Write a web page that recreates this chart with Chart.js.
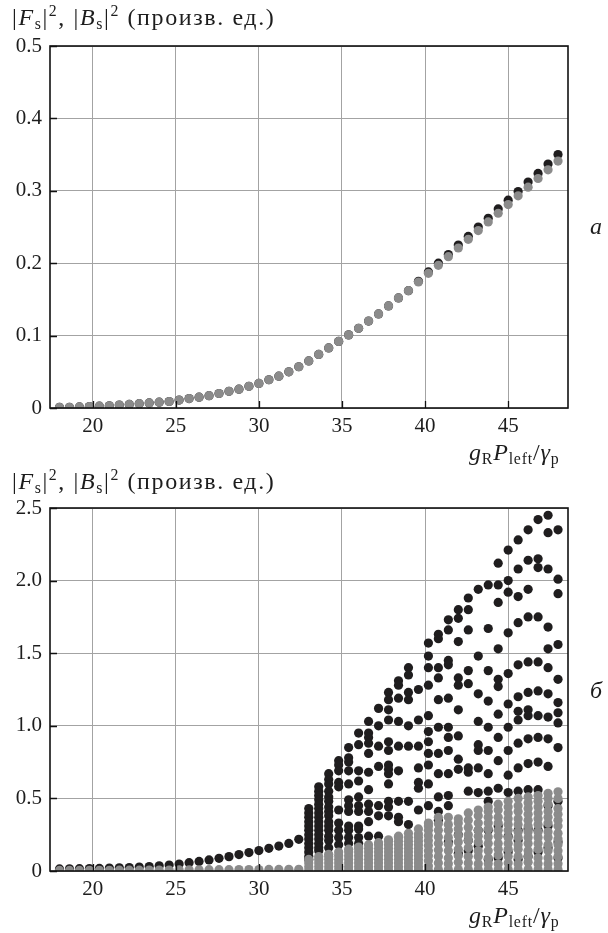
<!DOCTYPE html>
<html>
<head>
<meta charset="utf-8">
<script src="https://cdn.jsdelivr.net/npm/chart.js@4.4.0/dist/chart.umd.min.js"></script>
<style>
  html, body { margin: 0; padding: 0; background: #fff; }
  #wrap { position: relative; width: 608px; height: 933px; overflow: hidden; font-family: "Liberation Serif", "Times New Roman", serif; color: #1d1d1d; }
  .pane { position: absolute; left: 0; width: 608px; }
  .txt { position: absolute; font-size: 24px; line-height: 28px; white-space: nowrap; }
  .ytl { font-size: 24px; letter-spacing: 1.6px; }
  .xtl { font-size: 24px; letter-spacing: 0.8px; }
  .txt sub { font-size: 0.66em; vertical-align: -0.25em; line-height: 0; }
  .txt sup { font-size: 0.66em; vertical-align: 0.55em; line-height: 0; }
  .txt i { font-style: italic; }
</style>
</head>
<body>
<div id="wrap">
  <div class="pane" style="top:0;height:466px"><canvas id="topChart" width="608" height="466"></canvas></div>
  <div class="pane" style="top:462px;height:471px"><canvas id="botChart" width="608" height="471"></canvas></div>

  <div class="txt ytl" style="left:12px;top:3px">|<i>F</i><sub>s</sub>|<sup>2</sup>, |<i>B</i><sub>s</sub>|<sup>2</sup> (произв. ед.)</div>
  <div class="txt ytl" style="left:12px;top:467px">|<i>F</i><sub>s</sub>|<sup>2</sup>, |<i>B</i><sub>s</sub>|<sup>2</sup> (произв. ед.)</div>
  <div class="txt xtl" style="left:469px;top:438px"><i>g</i><sub>R</sub><i>P</i><sub>left</sub>/<i>γ</i><sub>p</sub></div>
  <div class="txt xtl" style="left:469px;top:901px"><i>g</i><sub>R</sub><i>P</i><sub>left</sub>/<i>γ</i><sub>p</sub></div>
  <div class="txt" style="left:590px;top:212px"><i>а</i></div>
  <div class="txt" style="left:590px;top:676px"><i>б</i></div>
</div>

<script>
  // ---- data ----
  const xTicks = [20, 25, 30, 35, 40, 45];
  const yTicksTop = [0, 0.1, 0.2, 0.3, 0.4, 0.5];
  const yLabelsTop = ["0", "0.1", "0.2", "0.3", "0.4", "0.5"];
  const yTicksBot = [0, 0.5, 1.0, 1.5, 2.0, 2.5];
  const yLabelsBot = ["0", "0.5", "1.0", "1.5", "2.0", "2.5"];

  // panel a: one point per pump value
  const xTop = [18.0, 18.6, 19.2, 19.8, 20.4, 21.0, 21.6, 22.2, 22.8, 23.4,
                24.0, 24.6, 25.2, 25.8, 26.4, 27.0, 27.6, 28.2, 28.8, 29.4,
                30.0, 30.6, 31.2, 31.8, 32.4, 33.0, 33.6, 34.2, 34.8, 35.4,
                36.0, 36.6, 37.2, 37.8, 38.4, 39.0, 39.6, 40.2, 40.8, 41.4,
                42.0, 42.6, 43.2, 43.8, 44.4, 45.0, 45.6, 46.2, 46.8, 47.4, 48.0];
  const topF = [0.001, 0.001, 0.0015, 0.002, 0.0025, 0.003, 0.004, 0.005, 0.006, 0.007,
                0.008, 0.009, 0.011, 0.013, 0.015, 0.017, 0.020, 0.023, 0.026, 0.030,
                0.034, 0.039, 0.044, 0.050, 0.057, 0.065, 0.074, 0.083, 0.092, 0.101,
                0.110, 0.120, 0.130, 0.141, 0.152, 0.162, 0.175, 0.188, 0.200, 0.212,
                0.225, 0.237, 0.250, 0.262, 0.275, 0.287, 0.299, 0.312, 0.324, 0.337, 0.350];
  const topB = [0.001, 0.001, 0.0015, 0.002, 0.0025, 0.003, 0.004, 0.005, 0.006, 0.007,
                0.008, 0.009, 0.011, 0.013, 0.015, 0.017, 0.020, 0.023, 0.026, 0.030,
                0.034, 0.039, 0.044, 0.050, 0.057, 0.065, 0.074, 0.083, 0.092, 0.101,
                0.110, 0.120, 0.130, 0.141, 0.152, 0.162, 0.174, 0.186, 0.197, 0.209,
                0.221, 0.233, 0.245, 0.257, 0.269, 0.281, 0.293, 0.305, 0.317, 0.329, 0.341];

  // panel б: single values below the threshold
  const xLow = [18.0, 18.6, 19.2, 19.8, 20.4, 21.0, 21.6, 22.2, 22.8, 23.4,
                24.0, 24.6, 25.2, 25.8, 26.4, 27.0, 27.6, 28.2, 28.8, 29.4,
                30.0, 30.6, 31.2, 31.8, 32.4];
  const lowF = [0.014, 0.015, 0.016, 0.017, 0.018, 0.020, 0.022, 0.024, 0.027, 0.031,
                0.036, 0.041, 0.048, 0.057, 0.066, 0.076, 0.087, 0.099, 0.113, 0.127,
                0.141, 0.156, 0.172, 0.190, 0.218];
  const lowB = [0.004, 0.004, 0.004, 0.005, 0.005, 0.005, 0.006, 0.006, 0.006, 0.007,
                0.007, 0.007, 0.008, 0.008, 0.008, 0.009, 0.009, 0.009, 0.010, 0.010,
                0.010, 0.011, 0.011, 0.012, 0.012];

  // panel б: many values per pump value above the threshold
  const xCol = [33.0, 33.6, 34.2, 34.8, 35.4, 36.0, 36.6, 37.2, 37.8, 38.4, 39.0, 39.6, 40.2,
                40.8, 41.4, 42.0, 42.6, 43.2, 43.8, 44.4, 45.0, 45.6, 46.2, 46.8, 47.4, 48.0];
  const colF = [
    [0.43, 0.40, 0.37, 0.34, 0.31, 0.28, 0.25, 0.22, 0.19, 0.16, 0.13, 0.10, 0.08],
    [0.58, 0.55, 0.52, 0.49, 0.46, 0.43, 0.40, 0.37, 0.34, 0.31, 0.28, 0.25, 0.22, 0.19, 0.16, 0.14],
    [0.67, 0.63, 0.60, 0.55, 0.51, 0.48, 0.44, 0.41, 0.38, 0.34, 0.31, 0.28, 0.24, 0.21, 0.16],
    [0.76, 0.73, 0.69, 0.61, 0.58, 0.42, 0.33, 0.28, 0.23, 0.18],
    [0.85, 0.78, 0.75, 0.69, 0.60, 0.49, 0.45, 0.41, 0.31, 0.28, 0.23, 0.19],
    [0.95, 0.87, 0.69, 0.62, 0.51, 0.45, 0.41, 0.31, 0.29, 0.23, 0.19],
    [1.03, 0.95, 0.92, 0.88, 0.81, 0.68, 0.56, 0.46, 0.41, 0.34, 0.24],
    [1.12, 1.00, 0.86, 0.72, 0.45, 0.38, 0.24],
    [1.23, 1.18, 1.11, 1.04, 0.89, 0.83, 0.73, 0.70, 0.67, 0.60, 0.48, 0.44, 0.38],
    [1.31, 1.28, 1.19, 1.03, 0.86, 0.69, 0.48, 0.37, 0.34],
    [1.40, 1.35, 1.23, 1.18, 1.00, 0.86, 0.48, 0.32],
    [1.25, 1.04, 0.86, 0.71, 0.61, 0.57, 0.42],
    [1.57, 1.48, 1.40, 1.28, 1.07, 0.96, 0.89, 0.81, 0.73, 0.60, 0.45],
    [1.63, 1.60, 1.40, 1.33, 1.18, 0.99, 0.81, 0.67, 0.51, 0.41, 0.35],
    [1.73, 1.66, 1.45, 1.42, 1.19, 0.99, 0.92, 0.83, 0.67, 0.52, 0.45, 0.20],
    [1.80, 1.74, 1.58, 1.33, 1.28, 1.11, 0.93, 0.77, 0.70, 0.25, 0.12],
    [1.88, 1.80, 1.66, 1.38, 1.29, 0.71, 0.68, 0.55, 0.21, 0.14],
    [1.94, 1.48, 1.22, 1.03, 0.87, 0.83, 0.71, 0.54, 0.28, 0.17],
    [1.97, 1.67, 1.38, 1.17, 0.99, 0.83, 0.67, 0.55, 0.48, 0.28, 0.08],
    [2.12, 1.97, 1.85, 1.53, 1.32, 1.27, 1.08, 0.92, 0.76, 0.57, 0.31, 0.09],
    [2.21, 2.00, 1.92, 1.64, 1.36, 1.15, 0.99, 0.83, 0.66, 0.54, 0.24, 0.13],
    [2.28, 2.08, 1.89, 1.71, 1.42, 1.20, 1.10, 1.04, 0.88, 0.71, 0.55, 0.28, 0.21, 0.08],
    [2.35, 2.14, 1.94, 1.75, 1.44, 1.23, 1.11, 1.07, 0.91, 0.74, 0.56, 0.29, 0.10],
    [2.42, 2.15, 2.09, 1.75, 1.44, 1.24, 1.07, 0.92, 0.75, 0.56, 0.28, 0.13],
    [2.45, 2.33, 2.08, 1.68, 1.53, 1.40, 1.22, 1.06, 0.91, 0.72, 0.45, 0.31, 0.16],
    [2.35, 2.01, 1.91, 1.56, 1.32, 1.16, 1.09, 1.02, 0.85, 0.48, 0.20, 0.09]
  ];
  const colB = [
    [0.005, 0.03, 0.055, 0.08],
    [0.005, 0.03, 0.055, 0.08, 0.10],
    [0.005, 0.03, 0.055, 0.08, 0.10, 0.115],
    [0.005, 0.03, 0.055, 0.08, 0.105, 0.13],
    [0.005, 0.03, 0.055, 0.08, 0.105, 0.13, 0.15],
    [0.005, 0.03, 0.055, 0.08, 0.105, 0.13, 0.155, 0.165],
    [0.005, 0.03, 0.055, 0.08, 0.105, 0.13, 0.155, 0.18],
    [0.005, 0.03, 0.055, 0.08, 0.105, 0.13, 0.155, 0.18, 0.195],
    [0.005, 0.03, 0.055, 0.08, 0.105, 0.13, 0.155, 0.18, 0.205, 0.215],
    [0.005, 0.03, 0.055, 0.08, 0.105, 0.13, 0.155, 0.18, 0.205, 0.23, 0.24],
    [0.005, 0.03, 0.055, 0.08, 0.105, 0.13, 0.155, 0.18, 0.205, 0.23, 0.26],
    [0.005, 0.03, 0.055, 0.08, 0.105, 0.13, 0.155, 0.18, 0.205, 0.23, 0.255, 0.29],
    [0.005, 0.035, 0.07, 0.105, 0.14, 0.175, 0.21, 0.245, 0.28, 0.31, 0.33],
    [0.01, 0.055, 0.10, 0.145, 0.19, 0.235, 0.28, 0.325, 0.37],
    [0.01, 0.05, 0.09, 0.14, 0.185, 0.23, 0.28, 0.32, 0.37],
    [0.01, 0.06, 0.105, 0.15, 0.20, 0.245, 0.29, 0.33, 0.36],
    [0.01, 0.055, 0.10, 0.16, 0.21, 0.25, 0.30, 0.35, 0.40],
    [0.01, 0.05, 0.10, 0.14, 0.20, 0.24, 0.28, 0.33, 0.38, 0.42],
    [0.01, 0.05, 0.09, 0.14, 0.19, 0.235, 0.29, 0.33, 0.37, 0.41, 0.44],
    [0.01, 0.05, 0.11, 0.15, 0.19, 0.24, 0.28, 0.33, 0.37, 0.42, 0.46],
    [0.01, 0.055, 0.10, 0.15, 0.19, 0.23, 0.28, 0.32, 0.36, 0.40, 0.44, 0.48],
    [0.01, 0.05, 0.10, 0.15, 0.18, 0.23, 0.27, 0.32, 0.36, 0.41, 0.45, 0.50],
    [0.01, 0.06, 0.10, 0.14, 0.19, 0.23, 0.27, 0.31, 0.35, 0.39, 0.43, 0.47, 0.51],
    [0.01, 0.05, 0.09, 0.15, 0.19, 0.23, 0.27, 0.32, 0.36, 0.40, 0.44, 0.48, 0.52],
    [0.01, 0.05, 0.09, 0.14, 0.18, 0.23, 0.27, 0.33, 0.37, 0.41, 0.46, 0.50, 0.535],
    [0.01, 0.05, 0.10, 0.14, 0.18, 0.22, 0.26, 0.31, 0.35, 0.39, 0.43, 0.50, 0.545]
  ];

  const BLACK = "#1f1d1e";
  const GRAY = "#8b8b8b";
  const FONT = { family: "'Liberation Serif', 'Times New Roman', serif", size: 21 };

  function pairs(xs, ys) { return xs.map((x, i) => ({ x: x, y: ys[i] })); }
  function columns(xs, cols) {
    const out = [];
    xs.forEach((x, i) => cols[i].forEach(v => out.push({ x: x, y: v })));
    return out;
  }

  // frame + inward ticks, drawn on top of the points
  const frame = {
    id: "frame",
    afterDatasetsDraw(chart) {
      const { ctx, chartArea: a, scales: { x, y } } = chart;
      ctx.save();
      ctx.strokeStyle = "#111";
      ctx.lineWidth = 1.3;
      ctx.beginPath();
      x.ticks.forEach(t => {
        const px = Math.round(x.getPixelForValue(t.value)) + 0.5;
        ctx.moveTo(px, a.bottom); ctx.lineTo(px, a.bottom - 7);
      });
      y.ticks.forEach(t => {
        const py = Math.round(y.getPixelForValue(t.value)) + 0.5;
        ctx.moveTo(a.left, py); ctx.lineTo(a.left + 7, py);
      });
      ctx.stroke();
      ctx.lineWidth = 1.6;
      ctx.strokeRect(a.left, a.top, a.right - a.left, a.bottom - a.top);
      ctx.restore();
    }
  };

  function makeChart(id, datasets, yMax, yTicks, yLabels, padTop, xHeight) {
    return new Chart(document.getElementById(id), {
      type: "scatter",
      data: { datasets: datasets },
      options: {
        responsive: false,
        animation: false,
        events: [],
        layout: { padding: { left: 0, right: 40, top: padTop, bottom: 0 } },
        plugins: { legend: { display: false }, tooltip: { enabled: false } },
        elements: { point: { radius: 4.6, borderWidth: 0, hoverRadius: 4.6 } },
        scales: {
          x: {
            type: "linear", min: 17.43, max: 48.6,
            afterBuildTicks: s => { s.ticks = xTicks.map(v => ({ value: v })); },
            afterFit: s => { s.height = xHeight; },
            grid: { color: "#a3a3a3", lineWidth: 1, drawTicks: false },
            border: { display: false },
            ticks: { font: FONT, color: "#1d1d1d", padding: 6, maxRotation: 0, callback: v => String(v) }
          },
          y: {
            type: "linear", min: 0, max: yMax,
            afterBuildTicks: s => { s.ticks = yTicks.map(v => ({ value: v })); },
            afterFit: s => { s.width = 50; },
            grid: { color: "#a3a3a3", lineWidth: 1, drawTicks: false },
            border: { display: false },
            ticks: { font: FONT, color: "#1d1d1d", padding: 8, callback: v => yLabels[yTicks.indexOf(v)] }
          }
        }
      },
      plugins: [frame]
    });
  }

  makeChart("topChart", [
    { label: "|Bs|^2", data: pairs(xTop, topB), backgroundColor: GRAY, order: 1 },
    { label: "|Fs|^2", data: pairs(xTop, topF), backgroundColor: BLACK, order: 2 }
  ], 0.5, yTicksTop, yLabelsTop, 46, 58);

  makeChart("botChart", [
    { label: "|Bs|^2", data: pairs(xLow, lowB).concat(columns(xCol, colB)), backgroundColor: GRAY, order: 1 },
    { label: "|Fs|^2", data: pairs(xLow, lowF).concat(columns(xCol, colF)), backgroundColor: BLACK, order: 2 }
  ], 2.5, yTicksBot, yLabelsBot, 46, 62);
</script>
</body>
</html>
